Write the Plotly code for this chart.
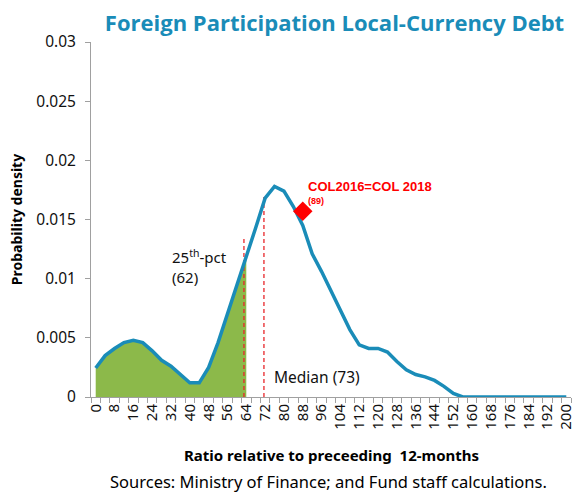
import plotly.graph_objects as go

# Data
ratio = list(range(0, 204, 4))
density = [0.00245, 0.0035, 0.0041, 0.0046, 0.0048, 0.0046, 0.0039, 0.0031, 0.0026, 0.0019,
           0.0012, 0.0012, 0.0025, 0.0046, 0.0070, 0.0093, 0.0117, 0.0143, 0.0168, 0.0178,
           0.0174, 0.0161, 0.0145, 0.0121, 0.0106, 0.0090, 0.0074, 0.0057, 0.0044, 0.0041,
           0.0041, 0.0038, 0.0030, 0.0023, 0.0019, 0.0017, 0.0014, 0.0009, 0.0003, 0.0,
           0, 0, 0, 0, 0, 0, 0, 0, 0, 0, 0]
pct25_x, pct25_top = 63, 0.01335
median_x, median_top = 71.5, 0.0171
fill_end = 64
col_x, col_y = 88, 0.0157
xtick_vals = list(range(0, 208, 8))

BLUE = "#1A8CB8"
GREEN = "#8CB94A"
RED = "#FF0000"
DASHRED = "#E8262A"

fx = [x for x in ratio if x <= fill_end]
fy = density[:len(fx)]

fig = go.Figure()
fig.add_trace(go.Scatter(x=fx, y=fy, fill="tozeroy", fillcolor=GREEN, mode="lines",
                         line=dict(width=0, color=GREEN), hoverinfo="skip", showlegend=False))
fig.add_trace(go.Scatter(x=[pct25_x, pct25_x], y=[0, pct25_top], mode="lines",
                         line=dict(color=DASHRED, width=1.3, dash="4px,3px"), showlegend=False))
fig.add_trace(go.Scatter(x=[median_x, median_x], y=[0, median_top], mode="lines",
                         line=dict(color=DASHRED, width=1.3, dash="4px,3px"), showlegend=False))
fig.add_trace(go.Scatter(x=ratio, y=density, mode="lines",
                         line=dict(color=BLUE, width=3.5), showlegend=False))
fig.add_trace(go.Scatter(x=[col_x], y=[col_y], mode="markers",
                         marker=dict(symbol="diamond", size=15, color=RED), showlegend=False))

fig.add_annotation(x=col_x + 1.2, y=0.0178, xref="x", yref="y", text="<b>COL2016=COL 2018</b>",
                   showarrow=False, xanchor="left", yanchor="middle",
                   font=dict(family="Liberation Sans", size=13, color=RED))
fig.add_annotation(x=col_x + 1.2, y=0.0166, xref="x", yref="y", text="<b>(89)</b>",
                   showarrow=False, xanchor="left", yanchor="middle",
                   font=dict(family="Liberation Sans", size=9, color=RED))
fig.add_annotation(x=31.5, y=0.0110, xref="x", yref="y",
                   text="25<sup>th</sup>-pct<br>(62)", showarrow=False, xanchor="left",
                   yanchor="middle", align="left",
                   font=dict(family="Noto Sans", size=15, color="#111111"))
fig.add_annotation(x=75, y=0.0017, xref="x", yref="y", text="Median (73)",
                   showarrow=False, xanchor="left", yanchor="middle",
                   font=dict(family="Noto Sans", size=15.5, color="#111111"))
fig.add_annotation(x=331, y=455, xref="paper", yref="paper",
                   text="<b>Ratio relative to preceeding  12-months</b>", showarrow=False,
                   font=dict(family="Noto Sans", size=15, color="#000000"),
                   xanchor="center", yanchor="middle")
fig.add_annotation(x=328, y=482, xref="paper", yref="paper",
                   text="Sources: Ministry of Finance; and Fund staff calculations.",
                   showarrow=False, font=dict(family="Noto Sans", size=16.5, color="#000000"),
                   xanchor="center", yanchor="middle")

# convert pixel positions of the bottom notes into paper coords
PL, PR, PT, PB, W, H = 91, 2, 42, 96, 573, 493
ph = H - PT - PB
pw = W - PL - PR
for ann in fig.layout.annotations:
    if ann.yref == "paper" and ann.y > 1:
        ann.y = (H - PB - ann.y) / ph
        ann.x = (ann.x - PL) / pw

fig.update_layout(
    width=W, height=H,
    margin=dict(l=PL, r=PR, t=PT, b=PB, autoexpand=False),
    paper_bgcolor="white", plot_bgcolor="white",
    title=dict(text="<b>Foreign Participation Local-Currency Debt</b>",
               x=(334.5 - PL) / pw, xref="paper", xanchor="center",
               y=1 - 23 / H, yanchor="middle",
               font=dict(family="Open Sans", size=22, color=BLUE)),
    xaxis=dict(range=[-2, 202], tickvals=xtick_vals, ticktext=[str(v) for v in xtick_vals],
               tickangle=-90, ticks="", showline=True, linecolor="#A0A0A0", linewidth=1,
               showgrid=False, zeroline=False, automargin=False, ticklabeloverflow="allow",
               tickfont=dict(family="Noto Sans", size=15, color="#111111"),
               minor=dict(ticks="outside", tick0=-2, dtick=4, ticklen=5, tickcolor="#A0A0A0")),
    yaxis=dict(range=[0, 0.03], dtick=0.005, tickformat="~g", ticks="outside", ticklen=5,
               tickcolor="#A0A0A0", showline=True, linecolor="#A0A0A0", linewidth=1,
               showgrid=False, zeroline=False, automargin=False, ticklabelstandoff=6,
               tickfont=dict(family="Noto Sans", size=15.5, color="#111111"),
               title=dict(text="<b>Probability density</b>", standoff=10,
                          font=dict(family="Noto Sans", size=14, color="#000000"))),
)

fig.write_html("out.html", config={"displayModeBar": False},
               post_script="document.body.style.margin='0';")
